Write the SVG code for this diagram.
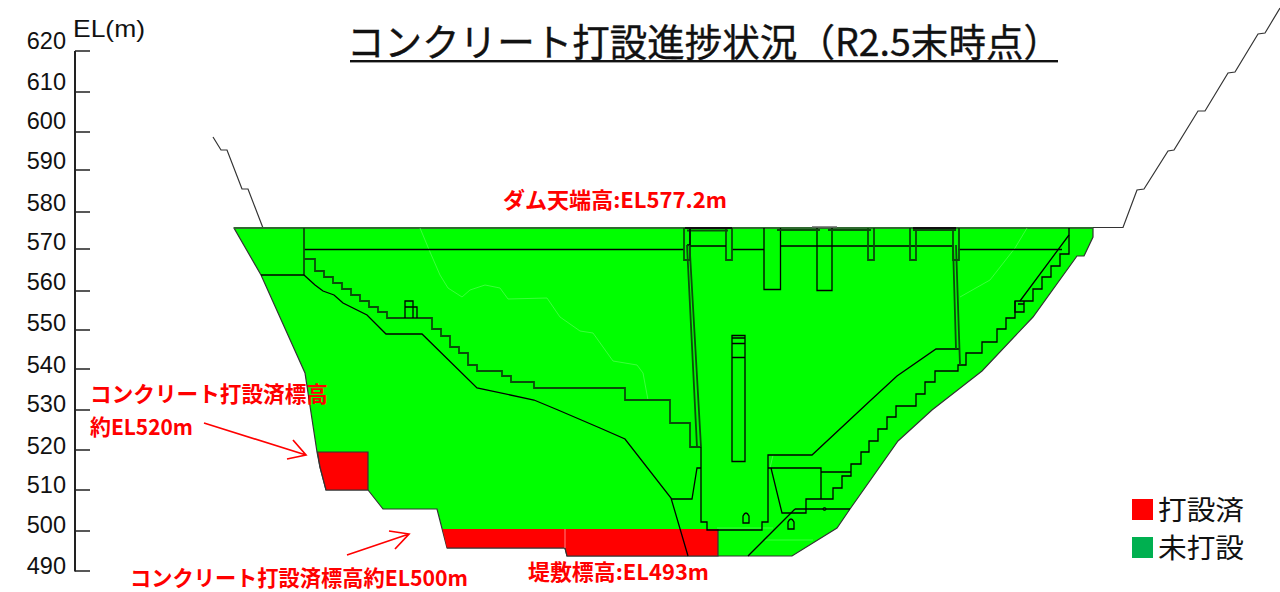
<svg xmlns="http://www.w3.org/2000/svg" width="1280" height="592" viewBox="0 0 1280 592">
<style>
text{font-family:"Liberation Sans","Noto Sans CJK JP",sans-serif}
.jp{font-family:"Noto Sans CJK JP",sans-serif}
.ax{font-size:23.5px;fill:#111;text-anchor:end}
.red{font-family:"Noto Sans CJK JP",sans-serif;font-weight:700;fill:#f00;font-size:21.500px}
.l{fill:none;stroke:#000;stroke-width:1.3}
.d{fill:none;stroke:#0b4d0b;stroke-width:1.8}
.r{fill:none;stroke:#333;stroke-width:1.2}
.w{fill:none;stroke:#55ff55;stroke-width:.7}
.t{stroke:#222;stroke-width:1.6}
.a{fill:none;stroke:#f00;stroke-width:1.7}
</style>
<rect width="1280" height="592" fill="#fff"/>
<g id="axis">
<path d="M75 51V571.500" fill="none" stroke="#222" stroke-width="2"/>
<path class="t" d="M75 51H90M75 92H90M75 132H90M75 170H90M75 212H90M75 249H90M75 291H90M75 330H90M75 369H90M75 410H90M75 450H90M75 490H90M75 531H90M75 571H90"/>
<text class="ax" x="66" y="49">620</text><text class="ax" x="66" y="90">610</text><text class="ax" x="66" y="129">600</text><text class="ax" x="66" y="169">590</text><text class="ax" x="66" y="211">580</text><text class="ax" x="66" y="250">570</text><text class="ax" x="66" y="290">560</text><text class="ax" x="66" y="331">550</text><text class="ax" x="66" y="373">540</text><text class="ax" x="66" y="412">530</text><text class="ax" x="66" y="454">520</text><text class="ax" x="66" y="493">510</text><text class="ax" x="66" y="533">500</text><text class="ax" x="66" y="574">490</text>
<text x="73" y="37" font-size="24" fill="#111" textLength="72" lengthAdjust="spacingAndGlyphs">EL(m)</text>
</g>
<g id="title">
<text class="jp" x="347" y="56" font-size="38" fill="#111" stroke="#111" stroke-width=".35" textLength="714" lengthAdjust="spacingAndGlyphs">コンクリート打設進捗状況（R2.5末時点）</text>
<rect x="350" y="60" width="708" height="2.400" fill="#111"/>
</g>
<g id="rock">
<path class="r" d="M213 137L221 150H227L242 189H248L263 228"/>
<path class="r" d="M1093 227.500H1123L1137 190L1144 189L1168 151L1174 150L1198 111L1205 111L1228 73L1235 72L1258 34L1265 33L1280 8"/>
</g>
<g id="dam-body">
<path d="M234 228H1093V237L1084 256H1077L1033 317L982 371L932 410L898 441L850 509L837 528L792 556H567L565 548H447L437 509H383L368 490H326L320 467L317 452L305 373L261 275Z" fill="#0f0" stroke="#333" stroke-width="1.200"/>
<path d="M234 228H1093" fill="none" stroke="#2f6b2f" stroke-width="2"/>
</g>
<g id="placed">
<path d="M317.500 452H368V490H326L320 467Z" fill="#f00" stroke="#333" stroke-width="1.200"/>
<path d="M442.500 529H718V556H567L565 548H447Z" fill="#f00"/>
<path d="M447 548H565L567 556H718V529" fill="none" stroke="#333" stroke-width="1.200"/>
<path d="M565 529V548" stroke="#ff8080" stroke-width="1"/>
</g>
<g id="connectors">
<path class="w" d="M420 228L430 252L440 275L448 288L462 297L470 290L485 285L500 288L508 299L547 298L560 317L580 331L593 333L613 361L637 365L643 373L648 400"/>
<path class="w" d="M1027 228L1015 248L990 280L960 297"/>
<path class="w" d="M717 528H773M765 540H813M773 455L770 468"/>
<path class="l" d="M304 249.500H684M732 249.500H764M958 249.500H1062"/>
<path class="d" d="M304 228V275"/>
<path class="l" d="M261 275H304"/>
<path class="d" d="M304 259H315V271H324V277H333V283H342V289H351V295H360V301H369V307H378V312H387V318H432V329H441V336H450V347H459V353H468V365H477V371H502V376H511V382H534V388H625V400H670V423H690V447H701"/>
<path class="l" d="M304 275L315 285L323 291L334 295L343 303L367 315L386 334H422L477 388L534 400L558 410L600 428L625 439L671 498L688 556"/>
<path class="l" d="M671 499H692L697 468H701"/>
<path class="l" d="M701 447V522H707V530H762V522H768V455H812L871 400L897 376L936 349H959"/>
<path class="l" d="M768 468H821V499M771 468L782 513H806V499H833V488H842V476H851V464H861V452H869V441H878V429H887V417H896V406H916V394H925V382H935V371H958V365H966V353H982V342H997V329H1006V318H1015V301H1033V289H1042V277H1051V266H1060V254H1069V228"/>
<path class="l" d="M821 472H851M795 509H850M748 556L795 509M1020 301L1069 235M1015 301V312H1024V301M1018 304H1024"/>
<circle cx="824.500" cy="509" r="1.500" fill="none" stroke="#000"/>
<path class="l" d="M743 523V516Q746 510 749 516V523ZM788 529V522Q791 516 794 522V529Z"/>
<path class="d" d="M684 228V260H690V228M726 228V260H732V228M687 230.500H728"/>
<path class="l" d="M690 246H726M780 246H953M690 228V245M687 245H689.500"/>
<path class="d" d="M687 245L697 447M689.500 245L701 447"/>
<path class="l" d="M764 228V289.500H780.500V228M817 228V290.500H832V228"/>
<path class="d" d="M777 230H820M828 230H871M913 230H956M868 228V260H874V228M910 228V260H916V228M953 228V260H959V228"/>
<path d="M812 227H837" stroke="#666" stroke-width="1.500"/>
<path d="M685 228H732M913 228H956" stroke="#111" stroke-width="1.800"/>
<path class="d" d="M953 245L956 349M956 245L960 365"/>
<path class="l" d="M732 461.500V335.500H745V461.500ZM732 338H745M732 343.500H745M732 357.500H745"/>
<path class="l" d="M405 318V301H413V318M405 307H417V318"/>
</g>
<g id="labels">
<text class="red" x="503" y="208" textLength="224" lengthAdjust="spacingAndGlyphs">ダム天端高:EL577.2m</text>
<text class="red" x="90" y="402" textLength="238" lengthAdjust="spacingAndGlyphs">コンクリート打設済標高</text>
<text class="red" x="90" y="435" textLength="103" lengthAdjust="spacingAndGlyphs">約EL520m</text>
<text class="red" x="130" y="585.500" textLength="338" lengthAdjust="spacingAndGlyphs">コンクリート打設済標高約EL500m</text>
<text class="red" x="528" y="580" textLength="181" lengthAdjust="spacingAndGlyphs">堤敷標高:EL493m</text>
<path class="a" d="M204 423L306 455M293 440L306 455L287 459"/>
<path class="a" d="M347 555L409 534M389 531L409 534L395 549"/>
</g>
<g id="legend">
<rect x="1132" y="499" width="21" height="21" fill="#f00"/>
<rect x="1132" y="537" width="21" height="21" fill="#00b050"/>
<text class="jp" x="1158" y="520" font-size="27" fill="#111" textLength="86" lengthAdjust="spacingAndGlyphs">打設済</text>
<text class="jp" x="1158" y="558" font-size="27" fill="#111" textLength="86" lengthAdjust="spacingAndGlyphs">未打設</text>
</g>
</svg>
